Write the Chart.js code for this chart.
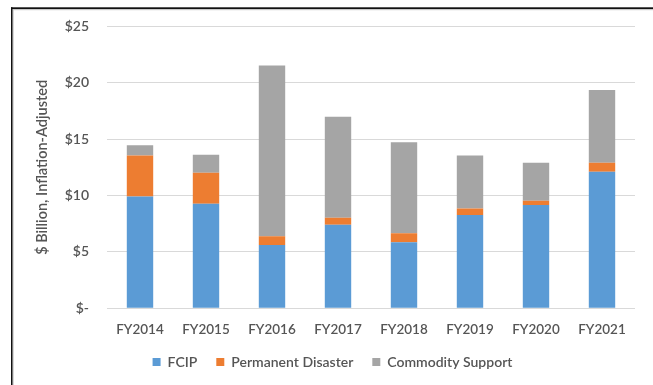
<!DOCTYPE html>
<html>
<head>
<meta charset="utf-8">
<script src="https://cdn.jsdelivr.net/npm/chart.js@4"></script>
<style>
  html, body { margin: 0; padding: 0; background: #fff; }
  #wrap { width: 653px; height: 385px; position: relative; }
</style>
</head>
<body>
<div id="wrap"><canvas id="c" width="653" height="385"></canvas></div>
<script>
const categories = ["FY2014", "FY2015", "FY2016", "FY2017", "FY2018", "FY2019", "FY2020", "FY2021"];
const fcip = [9.91, 9.28, 5.61, 7.40, 5.85, 8.27, 9.17, 12.12];
const permanentDisaster = [3.65, 2.75, 0.78, 0.63, 0.81, 0.57, 0.36, 0.78];
const commoditySupport = [0.89, 1.59, 15.14, 8.96, 8.06, 4.72, 3.37, 6.45];
const yTickLabels = { 0: "$-", 5: "$5", 10: "$10", 15: "$15", 20: "$20", 25: "$25" };
const yTitle = "$ Billion, Inflation-Adjusted";

const FONT = "Lato, 'Liberation Sans', sans-serif";
const TXT = "#555555";

const frame = {
  id: "frame",
  beforeDraw(chart) {
    const ctx = chart.ctx;
    ctx.save();
    ctx.fillStyle = "#fff";
    ctx.fillRect(0, 0, chart.width, chart.height);
    ctx.fillStyle = "#c8c8c8";
    ctx.fillRect(12.5, 9, chart.width, 1.2);
    ctx.fillRect(12.5, 9, 1.2, chart.height);
    ctx.fillStyle = "#111";
    ctx.fillRect(11, 7.3, chart.width, 1.7);
    ctx.fillRect(11, 7.3, 1.5, chart.height);
    ctx.restore();
  }
};

new Chart(document.getElementById("c"), {
  type: "bar",
  data: {
    labels: categories,
    datasets: [
      { label: "FCIP", data: fcip, backgroundColor: "#5b9bd5" },
      { label: "Permanent Disaster", data: permanentDisaster, backgroundColor: "#ed7d31" },
      { label: "Commodity Support", data: commoditySupport, backgroundColor: "#a5a5a5" }
    ]
  },
  options: {
    responsive: false,
    animation: false,
    devicePixelRatio: 1,
    layout: { padding: { left: 30, right: 18, top: 24.9, bottom: 6 } },
    datasets: { bar: { categoryPercentage: 1, barPercentage: 0.4 } },
    plugins: {
      tooltip: { enabled: false },
      legend: {
        position: "bottom",
        labels: {
          boxWidth: 8, boxHeight: 8, padding: 19,
          color: TXT,
          font: { family: FONT, size: 14, weight: "600" }
        }
      }
    },
    scales: {
      x: {
        stacked: true,
        grid: { display: false },
        border: { display: false },
        ticks: { color: TXT, font: { family: FONT, size: 13.5, weight: "600" }, padding: 5, maxRotation: 0 },
        afterFit(s) { s.height = 27.7; }
      },
      y: {
        stacked: true,
        min: 0, max: 25,
        grid: { color: "#d9d9d9", lineWidth: 1, drawTicks: false },
        border: { display: false },
        ticks: {
          stepSize: 5, padding: 18, color: TXT,
          font: { family: FONT, size: 14, weight: "600" },
          callback: v => yTickLabels[v]
        },
        title: {
          display: true, text: yTitle, color: TXT,
          font: { family: FONT, size: 14.5, weight: "600" }
        },
        afterFit(s) { s.width = 77; }
      }
    }
  },
  plugins: [frame]
});
</script>
</body>
</html>
